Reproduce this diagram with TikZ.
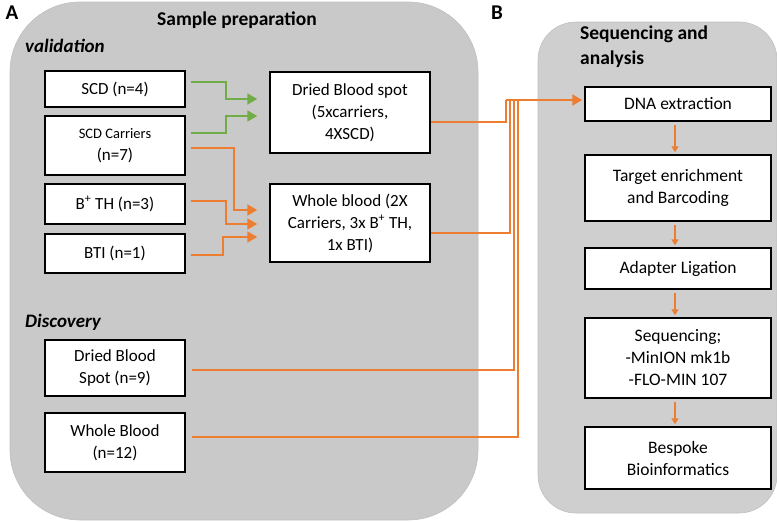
\documentclass[tikz,border=0pt]{standalone}
\usepackage{fontspec}
\setmainfont{Carlito}
\usepackage{xcolor}
\usetikzlibrary{
    arrows.meta,
    positioning
}
\definecolor{panelgray}{RGB}{201,201,201}
\definecolor{panelgray2}{RGB}{207,207,207}
\definecolor{ppt orange}{RGB}{237,125,49}
\definecolor{ppt green}{RGB}{112,173,71}

\begin{document}
\begin{tikzpicture}[x=1pt, y=-1pt,
    every node/.style={font=\fontsize{17}{22}\selectfont},
    box/.style={draw, line width=1.5pt, fill=white, align=center, inner sep=0pt},
    lbox/.style={box, minimum width=140pt},
    mbox/.style={box, minimum width=160pt},
    rbox/.style={box, minimum width=186pt, font=\fontsize{17.5}{22}\selectfont},
    heading/.style={font=\fontsize{19.5}{25}\selectfont\bfseries, inner sep=0pt},
    subhead/.style={font=\fontsize{19}{22}\selectfont\bfseries\itshape, inner sep=0pt, anchor=west},
    panel/.style={draw=black!25, line width=0.6pt},
    oline/.style={draw=ppt orange, line width=2pt},
    oarrow/.style={oline, -{Triangle[length=10pt, width=11pt]}},
    garrow/.style={draw=ppt green, line width=2pt, -{Triangle[length=10pt, width=11pt]}},
    sarrow/.style={oline, -{Triangle[length=6pt, width=7pt]}}
]
    \useasboundingbox (0,0) rectangle (777,522);
    % panels
    \draw[panel, fill=panelgray, rounded corners=70pt] (10,2) rectangle (478,520);
    \draw[panel, fill=panelgray2, rounded corners=38pt] (538,22) rectangle (777,513);
    \node[font=\fontsize{21}{21}\selectfont\bfseries] (lblA) at (12,13) {A};
    \node[font=\fontsize{21}{21}\selectfont\bfseries] (lblB) at (497,13) {B};
    \node[heading] (prep) at (237,20) {Sample preparation};
    \node[heading, anchor=west, align=left] (seqhd) at (580,47) {Sequencing and\\analysis};
    \node[subhead] (valid) at (25,46) {validation};
    \node[subhead] (disc) at (25,322) {Discovery};

    % validation samples
    \node[lbox, minimum height=36pt] (scd) at (115,89) {SCD (n=4)};
    \node[lbox, minimum height=59pt] (car) at (115,145.5) {{\fontsize{14.5}{20}\selectfont SCD Carriers}\\(n=7)};
    \node[lbox, minimum height=40pt] (bth) at (115,204) {B\textsuperscript{+} TH (n=3)};
    \node[lbox, minimum height=39pt] (bti) at (115,253.5) {BTI (n=1)};
    \node[mbox, minimum height=81pt] (dbs) at (350,112.5) {Dried Blood spot\\(5xcarriers,\\4XSCD)};
    \node[mbox, minimum height=78pt] (wb) at (350,223) {Whole blood (2X\\Carriers, 3x B\textsuperscript{+} TH,\\1x BTI)};

    % discovery samples
    \node[lbox, minimum height=56pt] (ddbs) at (115,368) {Dried Blood\\Spot (n=9)};
    \node[lbox, minimum height=59pt] (dwb) at (115,442.5) {Whole Blood\\(n=12)};

    % sequencing steps
    \node[rbox, minimum height=34pt] (dna) at (678,104) {DNA extraction};
    \node[rbox, minimum height=66pt] (tgt) at (678,188) {Target enrichment\\and Barcoding};
    \node[rbox, minimum height=41pt] (adp) at (678,268.5) {Adapter Ligation};
    \node[rbox, minimum height=80pt] (seq) at (678,358) {Sequencing;\\-MinION mk1b\\-FLO-MIN 107};
    \node[rbox, minimum height=62pt] (bio) at (678,458) {Bespoke\\Bioinformatics};

    % to dried blood spot
    \draw[garrow] ([xshift=5pt,yshift=7pt]scd.east) -- ++(35,0) |- ([xshift=-12pt,yshift=13.5pt]dbs.west);
    \draw[garrow] ([xshift=5pt,yshift=12.5pt]car.east) -- ++(35,0) |- ([xshift=-12pt,yshift=-3.5pt]dbs.west);
    % to whole blood
    \draw[oarrow] ([xshift=5pt,yshift=-2.5pt]car.east) -- ++(43,0) |- ([xshift=-12pt,yshift=13pt]wb.west);
    \draw[oarrow] ([xshift=5pt,yshift=3pt]bth.east) -- ++(35,0) |- ([xshift=-12pt,yshift=-1pt]wb.west);
    \draw[oarrow] ([xshift=5pt,yshift=-1.5pt]bti.east) -- ++(32,0) |- ([xshift=-12pt,yshift=-14pt]wb.west);

    % all samples to extraction
    \coordinate (bus) at (506,100);
    \draw[oline] ([yshift=-9.5pt]dbs.east) -| (bus);
    \draw[oline] ([yshift=-10pt]wb.east) -| ([xshift=4pt]bus);
    \draw[oline] ([xshift=6pt,yshift=-2pt]ddbs.east) -| ([xshift=8pt]bus);
    \draw[oline] ([xshift=6pt,yshift=5.5pt]dwb.east) -| ([xshift=12pt]bus);
    \draw[oarrow] (bus) -- ([xshift=-2pt,yshift=4pt]dna.west);

    \foreach \a/\b in {dna/tgt, tgt/adp, adp/seq, seq/bio}
        \draw[sarrow] ([xshift=-3pt,yshift=-3pt]\a.south) -- ([xshift=-3pt,yshift=2pt]\b.north);
\end{tikzpicture}
\end{document}
